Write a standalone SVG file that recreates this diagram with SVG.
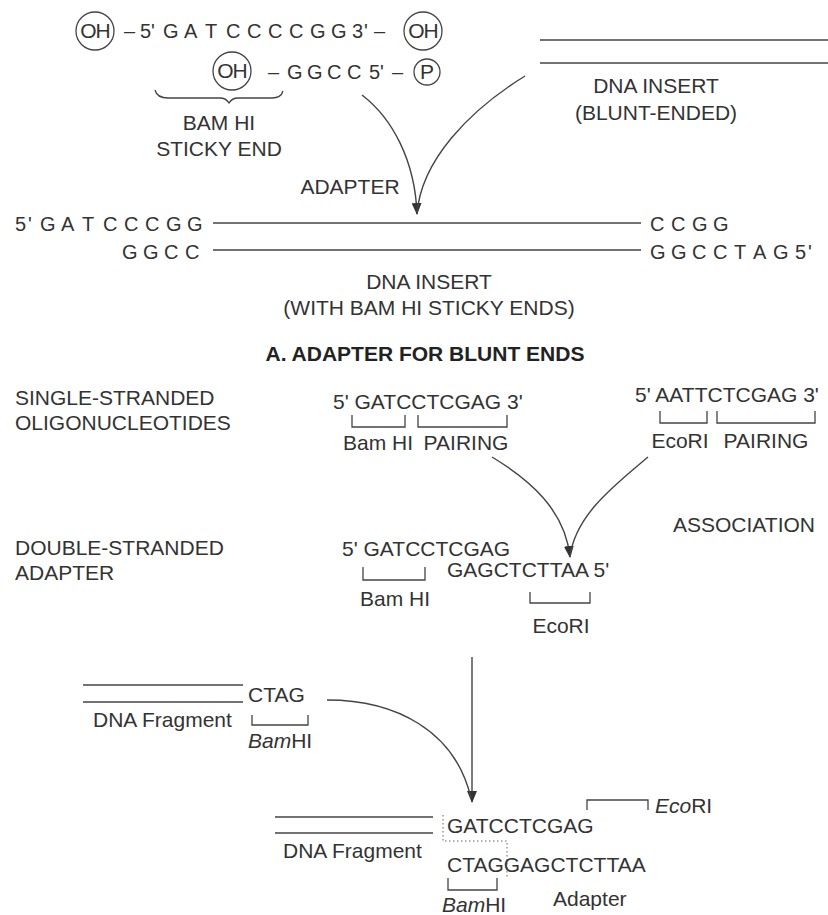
<svg xmlns="http://www.w3.org/2000/svg" width="828" height="915" viewBox="0 0 828 915">
<defs>
<style>
text{font-family:"Liberation Sans",Arial,sans-serif;font-size:21px;fill:#333}
.seq{font-size:20px}
.c{text-anchor:middle}
.b{font-weight:bold;fill:#222}
.it{font-style:italic}
.ln{stroke:#444;stroke-width:1.6;fill:none}
.br{stroke:#444;stroke-width:1.3;fill:none}
.circ{stroke:#444;stroke-width:1.3;fill:none}
.arr{stroke:#444;stroke-width:1.4;fill:none}
.dot{stroke:#666;stroke-width:1;fill:none;stroke-dasharray:1.5 2.5}
</style>
<marker id="ah" markerUnits="userSpaceOnUse" markerWidth="12" markerHeight="10" refX="11" refY="5" orient="auto">
<path d="M0,0 L12,5 L0,10 z" fill="#333"/>
</marker>
</defs>
<rect width="828" height="915" fill="#fff"/>

<g id="adapter-oligo">
<circle class="circ" cx="95" cy="31" r="19"/>
<text class="c" x="95" y="38" font-size="20" letter-spacing="-1">OH</text>
<text class="seq" x="124 140 151 163 184 205 226 247 268 289 310 331 352 364 374" y="38">–5'GATCCCCGG3'–</text>
<circle class="circ" cx="423" cy="31" r="19"/>
<text class="c" x="423" y="38" font-size="20" letter-spacing="-1">OH</text>
<circle class="circ" cx="232" cy="71" r="19"/>
<text class="c" x="232" y="78" font-size="20" letter-spacing="-1">OH</text>
<text class="seq" x="268 287 307 327 347 369 380 392" y="79">–GGCC5'–</text>
<circle class="circ" cx="427" cy="72" r="13"/>
<text class="c" x="427" y="79" font-size="19">P</text>
</g>

<g id="bamhi-sticky-label">
<path class="br" d="M155,90 Q157,98 168,98 L220,98 Q226,98 229,103 Q232,98 238,98 L272,98 Q281,98 283,91"/>
<text class="c" x="219" y="130">BAM HI</text>
<text class="c" x="219" y="156">STICKY END</text>
</g>

<g id="adapter-label">
<text class="c" x="350" y="194">ADAPTER</text>
</g>

<g id="blunt-insert">
<line class="ln" x1="540" y1="40" x2="828" y2="40"/>
<line class="ln" x1="540" y1="63" x2="828" y2="63"/>
<text class="c" x="656" y="93">DNA INSERT</text>
<text class="c" x="656" y="120">(BLUNT-ENDED)</text>
</g>

<g id="sticky-insert">
<text class="seq" x="15 28 40 61 82 103 124 145 166 187" y="231">5'GATCCCGG</text>
<text class="seq" x="122 143 164 185" y="259">GGCC</text>
<line class="ln" x1="213" y1="223" x2="641" y2="223"/>
<line class="ln" x1="213" y1="250" x2="641" y2="250"/>
<text class="seq" x="650 671 692 713" y="231">CCGG</text>
<text class="seq" x="650 671 692 713 734 753 773 795 808" y="259">GGCCTAG5'</text>
<text class="c" x="429" y="289">DNA INSERT</text>
<text class="c" x="429" y="315">(WITH BAM HI STICKY ENDS)</text>
</g>

<g id="title-a">
<text class="c b" x="425" y="361">A. ADAPTER FOR BLUNT ENDS</text>
</g>

<g id="label-single">
<text x="15" y="405">SINGLE-STRANDED</text>
<text x="15" y="430">OLIGONUCLEOTIDES</text>
</g>

<g id="oligo-bam">
<text x="333" y="409">5' GATCCTCGAG 3'</text>
<path class="br" d="M352,415 V427 H405 V415"/>
<path class="br" d="M418,415 V427 H507 V415"/>
<text class="c" x="378" y="450">Bam HI</text>
<text class="c" x="466" y="450">PAIRING</text>
</g>

<g id="oligo-eco">
<text x="635" y="402">5' AATTCTCGAG 3'</text>
<path class="br" d="M660,411 V423 H707 V411"/>
<path class="br" d="M717,411 V423 H815 V411"/>
<text class="c" x="680" y="448">EcoRI</text>
<text class="c" x="766" y="448">PAIRING</text>
</g>

<g id="label-association">
<text x="673" y="532">ASSOCIATION</text>
</g>

<g id="label-double">
<text x="15" y="555">DOUBLE-STRANDED</text>
<text x="15" y="580">ADAPTER</text>
</g>

<g id="ds-adapter">
<text x="342" y="556">5' GATCCTCGAG</text>
<text x="447" y="577">GAGCTCTTAA 5'</text>
<path class="br" d="M363,567 V580 H425 V567"/>
<text class="c" x="395" y="606">Bam HI</text>
<path class="br" d="M530,592 V603 H590 V592"/>
<text class="c" x="561" y="633">EcoRI</text>
</g>

<g id="fragment-bamhi">
<line class="ln" x1="83" y1="685" x2="243" y2="685"/>
<line class="ln" x1="83" y1="702" x2="243" y2="702"/>
<text x="248" y="702">CTAG</text>
<text x="93" y="727">DNA Fragment</text>
<path class="br" d="M252,715 V725 H308 V715"/>
<text x="248" y="748"><tspan class="it">Bam</tspan>HI</text>
</g>

<g id="ligated-product">
<line class="ln" x1="275" y1="817" x2="433" y2="817"/>
<line class="ln" x1="275" y1="833" x2="433" y2="833"/>
<text x="283" y="858">DNA Fragment</text>
<path class="dot" d="M443,815 V841 H507 V879"/>
<text x="447" y="833">GATCCTCGAG</text>
<text x="447" y="872">CTAGGAGCTCTTAA</text>
<path class="br" d="M587,810 V800 H648 V810"/>
<text x="655" y="813"><tspan class="it">Eco</tspan>RI</text>
<path class="br" d="M448,878 V890 H497 V878"/>
<text x="442" y="912"><tspan class="it">Bam</tspan>HI</text>
<text x="553" y="906">Adapter</text>
</g>

<g id="connectors">
<path class="arr" d="M362,95 C392,118 415,160 417,214" marker-end="url(#ah)"/>
<path class="arr" d="M525,76 C470,110 421,160 417,214"/>
<path class="arr" d="M492,457 C530,480 565,510 570,557" marker-end="url(#ah)"/>
<path class="arr" d="M648,457 C615,485 575,515 570,557"/>
<path class="arr" d="M472,657 V802" marker-end="url(#ah)"/>
<path class="arr" d="M327,700 C395,700 455,730 471,798"/>
</g>
</svg>
